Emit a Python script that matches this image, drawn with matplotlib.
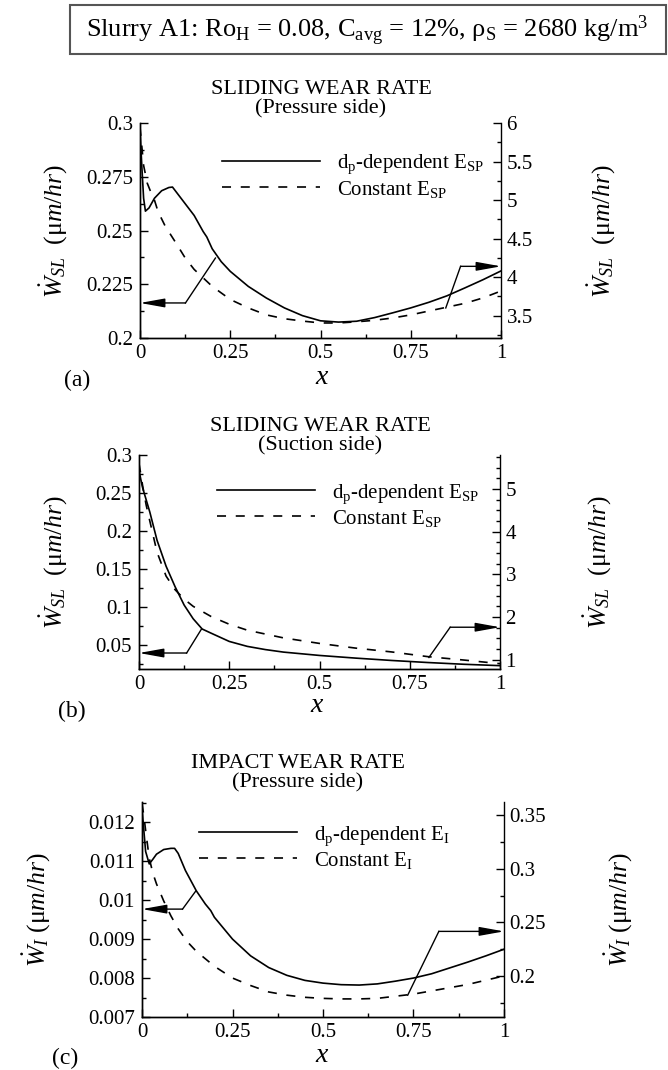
import numpy as np
import matplotlib
matplotlib.use('Agg')
import matplotlib.pyplot as plt
from matplotlib.ticker import MultipleLocator, FuncFormatter
from matplotlib.patches import Rectangle

plt.rcParams['font.family'] = 'Liberation Serif'
plt.rcParams['mathtext.fontset'] = 'custom'
plt.rcParams['mathtext.rm'] = 'Liberation Serif'
plt.rcParams['mathtext.it'] = 'Liberation Serif:italic'
plt.rcParams['mathtext.bf'] = 'Liberation Serif:bold'
plt.rcParams['lines.scale_dashes'] = False

# ---- (a) sliding wear, pressure side ----
a_x_dp = [0, 0.005, 0.01, 0.015, 0.025, 0.04, 0.06, 0.08, 0.09, 0.1, 0.125, 0.15, 0.175, 0.185,
          0.2, 0.225, 0.25, 0.3, 0.35, 0.4, 0.45, 0.5, 0.55, 0.6, 0.65, 0.7, 0.75, 0.8, 0.85,
          0.9, 0.95, 1.0]
a_w_dp = [0.297, 0.28, 0.265, 0.259, 0.2605, 0.265, 0.2685, 0.27, 0.2702, 0.268, 0.2625, 0.257,
          0.2495, 0.247, 0.2415, 0.2355, 0.231, 0.224, 0.2186, 0.214, 0.2104, 0.208, 0.2074,
          0.2078, 0.2095, 0.2117, 0.214, 0.2166, 0.2196, 0.2233, 0.2271, 0.2312]
a_x_const = [0, 0.005, 0.01, 0.02, 0.032, 0.04, 0.05, 0.07, 0.1, 0.125, 0.15, 0.2, 0.25, 0.3,
             0.35, 0.4, 0.45, 0.5, 0.55, 0.6, 0.65, 0.7, 0.75, 0.8, 0.85, 0.9, 0.95, 1.0]
a_w_const = [5.95, 5.7, 5.45, 5.22, 5.08, 5.0, 4.85, 4.66, 4.44, 4.25, 4.1, 3.88, 3.71, 3.6,
             3.51, 3.46, 3.43, 3.405, 3.405, 3.42, 3.44, 3.47, 3.51, 3.56, 3.61, 3.66, 3.73, 3.82]

# ---- (b) sliding wear, suction side ----
b_x_dp = [0, 0.005, 0.01, 0.02, 0.03, 0.05, 0.075, 0.1, 0.125, 0.15, 0.175, 0.2, 0.25, 0.3,
          0.35, 0.4, 0.5, 0.6, 0.7, 0.8, 0.9, 1.0]
b_w_dp = [0.28, 0.268, 0.257, 0.241, 0.225, 0.188, 0.154, 0.127, 0.103, 0.085, 0.0715, 0.066,
          0.0552, 0.0487, 0.0445, 0.0412, 0.0368, 0.0333, 0.0302, 0.0275, 0.0252, 0.0234]
b_x_const = [0, 0.005, 0.01, 0.02, 0.03, 0.05, 0.075, 0.1, 0.125, 0.15, 0.2, 0.25, 0.3, 0.4,
             0.5, 0.6, 0.7, 0.8, 0.9, 1.0]
b_w_const = [5.6, 5.35, 5.08, 4.62, 4.25, 3.52, 2.96, 2.64, 2.42, 2.25, 2.01, 1.83, 1.69, 1.51,
             1.38, 1.27, 1.18, 1.07, 0.99, 0.905]

# ---- (c) impact wear, pressure side ----
c_x_dp = [0, 0.005, 0.01, 0.02, 0.03, 0.04, 0.06, 0.08, 0.09, 0.1, 0.12, 0.15, 0.175, 0.19,
          0.2, 0.25, 0.3, 0.35, 0.4, 0.45, 0.5, 0.55, 0.6, 0.65, 0.7, 0.75, 0.8, 0.85, 0.9,
          0.95, 1.0]
c_w_dp = [0.01235, 0.0118, 0.01125, 0.01093, 0.01105, 0.01118, 0.0113, 0.01133, 0.01133,
          0.0112, 0.01076, 0.01024, 0.0099, 0.00973, 0.00956, 0.009, 0.00857, 0.00827,
          0.00807, 0.00794, 0.00787, 0.00783, 0.00782, 0.00785, 0.00792, 0.008, 0.00811,
          0.00826, 0.00841, 0.00857, 0.00874]
c_x_const = [0, 0.005, 0.01, 0.02, 0.03, 0.04, 0.06, 0.08, 0.1, 0.125, 0.15, 0.2, 0.25, 0.3,
             0.35, 0.4, 0.45, 0.5, 0.55, 0.6, 0.65, 0.7, 0.75, 0.8, 0.85, 0.9, 0.95, 1.0]
c_w_const = [0.361, 0.35, 0.336, 0.31, 0.296, 0.286, 0.27, 0.256, 0.244, 0.232, 0.223, 0.209,
             0.198, 0.191, 0.185, 0.182, 0.18, 0.179, 0.1785, 0.1785, 0.179, 0.181, 0.183,
             0.186, 0.189, 0.192, 0.196, 0.2]

x_ticks = [0, 0.25, 0.5, 0.75, 1]
header = (r'Slurry A1: Ro$_{\mathrm{H}}$ = 0.08, C$_{\mathrm{avg}}$ = 12%, '
          r'$\mathrm{\rho}_{\mathrm{S}}$ = 2680 kg/m$^{3}$')

W, H = 668, 1070
fig = plt.figure(figsize=(W / 100, H / 100), dpi=100)


def fx(px):
    return px / W


def fy(py):
    return 1 - py / H


fmt = FuncFormatter(lambda v, p: '%g' % round(v, 6))
dash = (0, (6.5, 7))

panels = [
    dict(box=(140, 123, 501, 338), xd=a_x_dp, yd=a_w_dp, xc=a_x_const, yc=a_w_const,
         lim1=(0.2, 0.3), step1=0.025, lim2=(3.21, 6.0), step2=0.5, minor2=0.25,
         title='SLIDING WEAR RATE', sub='(Pressure side)', tx=321, ty=94,
         tag='(a)', tagpos=(77, 380), xlpos=(322, 377),
         ylab=r'$\dot{W}_{SL}\ \ (\mathrm{\mu}m/hr)$', ylx=(53, 601),
         sub_e='SP', leg=(222, 153),
         arr1=[(0.209, 0.2372), (0.126, 0.2163), (0.0, 0.2163)],
         arr2=[(0.847, 3.60), (0.888, 4.14), (1.0, 4.14)]),
    dict(box=(139, 455, 500, 669), xd=b_x_dp, yd=b_w_dp, xc=b_x_const, yc=b_w_const,
         lim1=(0.019, 0.3), step1=0.05, lim2=(0.78, 5.8), step2=1.0, minor2=0.25,
         title='SLIDING WEAR RATE', sub='(Suction side)', tx=320, ty=431,
         tag='(b)', tagpos=(72, 711), xlpos=(317, 705),
         ylab=r'$\dot{W}_{SL}\ \ (\mathrm{\mu}m/hr)$', ylx=(53, 597),
         sub_e='SP', leg=(217, 482),
         arr1=[(0.173, 0.0714), (0.132, 0.040), (0.0, 0.040)],
         arr2=[(0.803, 1.05), (0.862, 1.76), (1.0, 1.76)]),
    dict(box=(142, 802, 504, 1017), xd=c_x_dp, yd=c_w_dp, xc=c_x_const, yc=c_w_const,
         lim1=(0.007, 0.01252), step1=0.001, lim2=(0.1616, 0.3625), step2=0.05, minor2=0.025,
         title='IMPACT WEAR RATE', sub='(Pressure side)', tx=298, ty=768,
         tag='(c)', tagpos=(65, 1058), xlpos=(322, 1055),
         ylab=r'$\dot{W}_{I}\ (\mathrm{\mu}m/hr)$', ylx=(36, 618),
         sub_e='I', leg=(199, 824),
         arr1=[(0.149, 0.01024), (0.112, 0.00977), (0.0, 0.00977)],
         arr2=[(0.734, 0.182), (0.82, 0.2416), (1.0, 0.2416)]),
]

for p in panels:
    x0, y0, x1, y1 = p['box']
    ax = fig.add_axes([fx(x0), fy(y1), (x1 - x0) / W, (y1 - y0) / H])
    ax2 = ax.twinx()

    l1, = ax.plot(p['xd'], p['yd'], color='black', lw=1.2)
    l2, = ax2.plot(p['xc'], p['yc'], color='black', lw=1.2, linestyle=dash)

    ax.set_xlim(0, 1)
    ax.set_ylim(*p['lim1'])
    ax2.set_ylim(*p['lim2'])
    ax.set_xticks(x_ticks)
    ax.xaxis.set_minor_locator(MultipleLocator(0.125))
    ax.yaxis.set_major_locator(MultipleLocator(p['step1']))
    ax.yaxis.set_minor_locator(MultipleLocator(p['step1'] / 2))
    ax2.yaxis.set_major_locator(MultipleLocator(p['step2']))
    ax2.yaxis.set_minor_locator(MultipleLocator(p['minor2']))
    for a in (ax, ax2):
        a.xaxis.set_major_formatter(fmt)
        a.yaxis.set_major_formatter(fmt)
        a.spines['top'].set_visible(False)
        for s in a.spines.values():
            s.set_linewidth(1.0)
        a.tick_params(which='both', direction='in', width=1.0, labelsize=15)
        a.tick_params(which='major', length=6)
        a.tick_params(which='minor', length=3)
    ax.tick_params(axis='y', pad=5)
    ax.tick_params(axis='x', pad=4)
    ax2.tick_params(axis='y', pad=4)
    ax.spines['right'].set_visible(False)

    # pointer arrows to the axis each curve belongs to
    for a, pts in ((ax, p['arr1']), (ax2, p['arr2'])):
        xs = [q[0] for q in pts[:2]]
        ys = [q[1] for q in pts[:2]]
        a.plot(xs, ys, color='black', lw=1.0, clip_on=False)
        a.annotate('', xy=pts[2], xytext=pts[1],
                   arrowprops=dict(arrowstyle='-|>,head_length=1.0,head_width=0.18',
                                   color='black', lw=1.0, mutation_scale=15,
                                   shrinkA=0, shrinkB=0))

    e = p['sub_e']
    ax.legend([l1, l2],
              [r'd$_{\mathrm{p}}$-dependent E$_{\mathrm{%s}}$' % e,
               r'Constant E$_{\mathrm{%s}}$' % e],
              loc='upper left', bbox_to_anchor=(fx(p['leg'][0]), fy(p['leg'][1])),
              bbox_transform=fig.transFigure, frameon=False, fontsize=15,
              handlelength=4.7, handletextpad=0.8, borderpad=0, borderaxespad=0,
              labelspacing=0.1)

    fig.text(fx(p['tx']), fy(p['ty']), p['title'], ha='center', va='baseline', fontsize=16)
    fig.text(fx(p['tx']), fy(p['ty'] + 19), p['sub'], ha='center', va='baseline', fontsize=16)
    fig.text(fx(p['tagpos'][0]), fy(p['tagpos'][1]), p['tag'], ha='center', va='center',
             fontsize=17)
    fig.text(fx(p['xlpos'][0]), fy(p['xlpos'][1]), r'$x$', ha='center', va='center',
             fontsize=20)
    ymid = fy((y0 + y1) / 2)
    fig.text(fx(p['ylx'][0]), ymid, p['ylab'], rotation=90, ha='center', va='center',
             fontsize=18.5)
    fig.text(fx(p['ylx'][1]), ymid, p['ylab'], rotation=90, ha='center', va='center',
             fontsize=18.5)

fig.patches.append(Rectangle((fx(70), fy(54)), (666 - 70) / W, 49 / H,
                             transform=fig.transFigure, fill=False,
                             edgecolor='#555555', lw=1.5))
fig.text(fx(86), fy(37), header, ha='left', va='baseline', fontsize=19)

fig.savefig('out.png', dpi=100)
